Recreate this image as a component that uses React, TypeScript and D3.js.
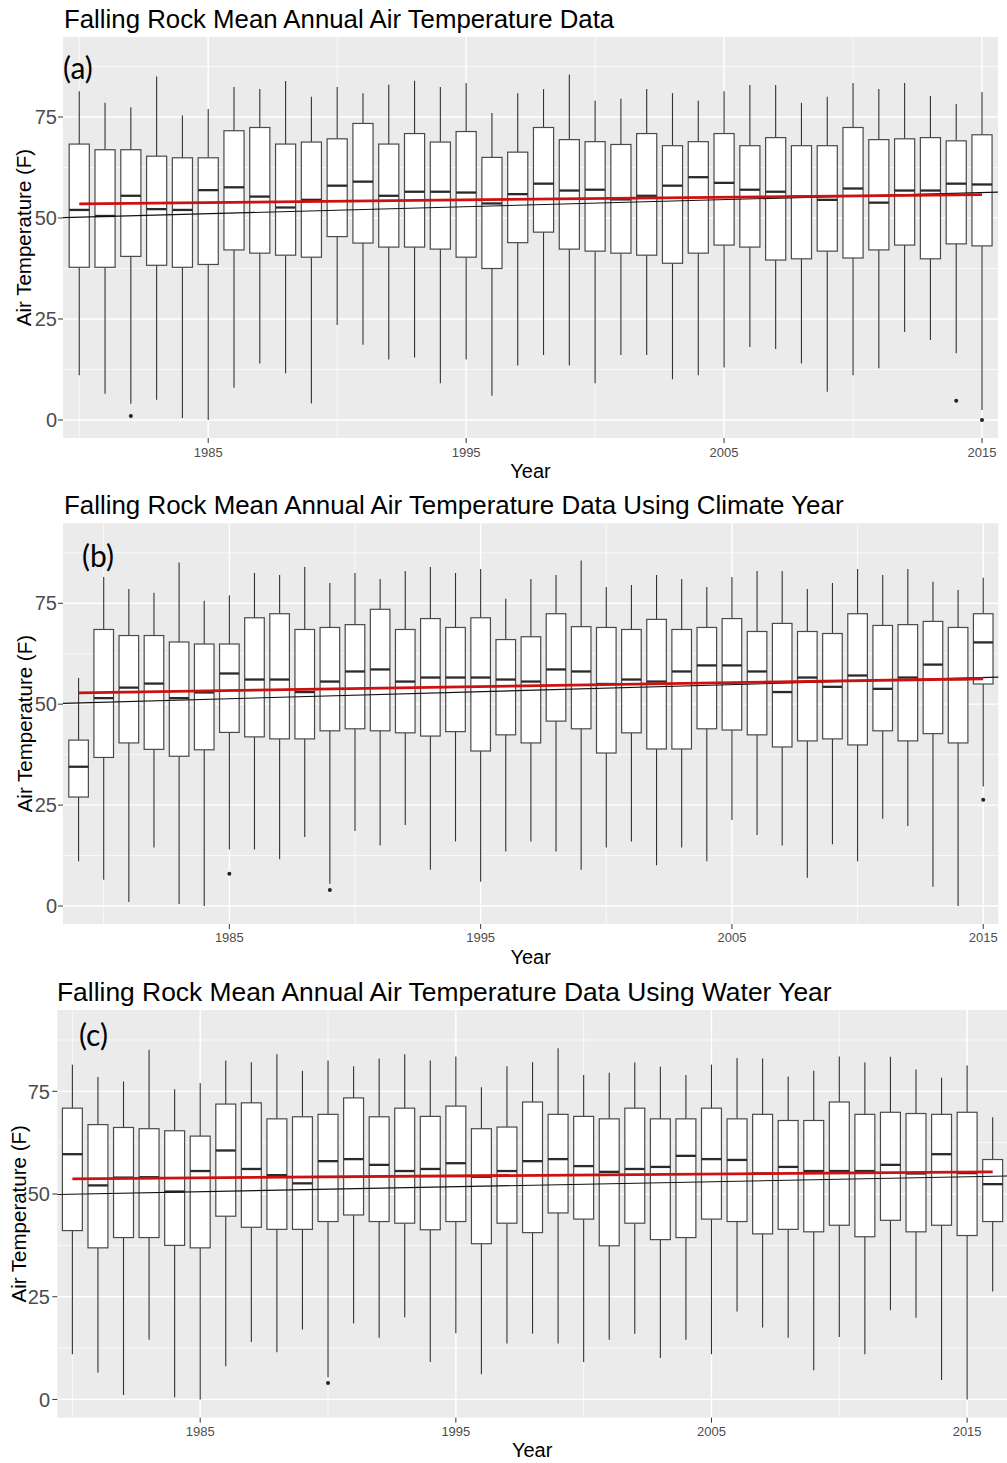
import React from 'react';
import * as d3 from 'd3';

// ---------- (a) calendar year ----------
const aYears = [1980, 1981, 1982, 1983, 1984, 1985, 1986, 1987, 1988, 1989, 1990, 1991, 1992, 1993, 1994, 1995, 1996, 1997, 1998, 1999, 2000, 2001, 2002, 2003, 2004, 2005, 2006, 2007, 2008, 2009, 2010, 2011, 2012, 2013, 2014, 2015];
const aHigh = [81.4, 78.5, 77.4, 85.0, 75.4, 77.0, 82.4, 81.9, 83.9, 80.0, 82.4, 80.9, 83.0, 84.0, 82.4, 83.4, 76.0, 80.9, 81.9, 85.5, 79.0, 79.5, 81.9, 80.9, 79.0, 81.4, 82.9, 82.9, 78.5, 80.0, 83.4, 81.9, 83.4, 80.2, 78.2, 81.2];
const aQ3 = [68.3, 66.9, 66.9, 65.3, 64.9, 64.9, 71.6, 72.4, 68.3, 68.8, 69.6, 73.4, 68.3, 70.9, 68.8, 71.4, 65.0, 66.3, 72.4, 69.4, 68.9, 68.2, 70.9, 67.9, 68.9, 70.9, 67.9, 69.9, 67.9, 67.9, 72.4, 69.4, 69.6, 69.9, 69.1, 70.6];
const aMedian = [52.0, 50.5, 55.5, 52.2, 52.0, 56.9, 57.6, 55.3, 52.6, 54.5, 58.0, 59.0, 55.5, 56.5, 56.5, 56.3, 53.6, 55.9, 58.5, 56.8, 57.0, 54.6, 55.5, 58.0, 60.1, 58.7, 57.0, 56.5, 55.3, 54.5, 57.3, 53.8, 56.8, 56.8, 58.5, 58.3];
const aQ1 = [37.8, 37.8, 40.5, 38.3, 37.8, 38.5, 42.1, 41.3, 40.8, 40.3, 45.4, 43.8, 42.8, 42.8, 42.3, 40.3, 37.5, 43.9, 46.5, 42.3, 41.8, 41.3, 40.8, 38.8, 41.3, 43.3, 42.8, 39.6, 39.9, 41.8, 40.1, 42.1, 43.3, 39.9, 43.6, 43.1];
const aLow = [11.1, 6.5, 4.0, 5.0, 0.5, 0.0, 8.0, 14.0, 11.6, 4.1, 23.5, 18.6, 15.0, 15.5, 9.1, 15.0, 6.0, 13.5, 16.1, 13.5, 9.1, 16.1, 16.1, 10.1, 11.1, 13.0, 18.1, 17.6, 14.0, 7.0, 11.1, 12.8, 21.8, 19.8, 16.5, 2.5];
const aOutlierYears = [1982, 2014, 2015];
const aOutlierValues = [1.0, 4.8, 0.0];
// linear trend (value at first year, change per year) and smoothed mean (first/last year)
const aTrend = [50.2, 0.174];
const aSmooth = [53.5, 55.8];

// ---------- (b) climate year ----------
const bYears = [1979, 1980, 1981, 1982, 1983, 1984, 1985, 1986, 1987, 1988, 1989, 1990, 1991, 1992, 1993, 1994, 1995, 1996, 1997, 1998, 1999, 2000, 2001, 2002, 2003, 2004, 2005, 2006, 2007, 2008, 2009, 2010, 2011, 2012, 2013, 2014, 2015];
const bHigh = [56.5, 81.5, 78.5, 77.6, 85.1, 75.6, 77.0, 82.5, 82.0, 84.0, 80.0, 82.5, 81.0, 83.0, 84.0, 82.5, 83.5, 76.1, 81.0, 82.0, 85.6, 79.0, 79.5, 82.0, 81.0, 79.0, 81.5, 83.0, 83.0, 78.5, 80.0, 83.5, 82.0, 83.5, 80.3, 78.3, 81.3];
const bQ3 = [41.1, 68.5, 67.0, 67.0, 65.4, 64.9, 64.9, 71.4, 72.4, 68.5, 69.0, 69.7, 73.5, 68.5, 71.2, 69.0, 71.4, 66.0, 66.7, 72.4, 69.2, 69.0, 68.5, 71.0, 68.5, 69.0, 71.2, 68.0, 70.0, 68.0, 67.5, 72.4, 69.5, 69.7, 70.5, 69.0, 72.4];
const bMedian = [34.5, 51.5, 54.1, 55.1, 51.5, 52.9, 57.6, 56.1, 56.1, 53.0, 55.6, 58.1, 58.6, 55.6, 56.6, 56.6, 56.6, 56.1, 55.6, 58.6, 58.1, 55.0, 56.1, 55.6, 58.1, 59.6, 59.6, 58.1, 53.0, 56.6, 54.3, 57.1, 53.8, 56.6, 59.8, 56.2, 65.3];
const bQ1 = [27.0, 36.8, 40.4, 38.8, 37.1, 38.7, 43.0, 41.9, 41.4, 41.4, 43.4, 43.9, 43.4, 42.9, 42.1, 43.2, 38.4, 42.4, 40.4, 45.8, 43.9, 37.9, 42.9, 38.9, 38.9, 43.9, 43.6, 42.4, 39.4, 40.9, 41.4, 39.9, 43.4, 40.9, 42.7, 40.4, 55.0];
const bLow = [11.1, 6.5, 1.0, 14.5, 0.5, 0.0, 14.0, 14.0, 11.6, 17.1, 5.5, 18.6, 15.0, 20.1, 9.0, 16.0, 6.0, 13.5, 16.0, 13.5, 9.0, 14.5, 16.0, 10.1, 14.5, 11.1, 21.3, 17.6, 15.0, 7.0, 15.3, 11.1, 21.6, 19.8, 4.8, 0.0, 29.6];
const bOutlierYears = [1985, 1989, 2015];
const bOutlierValues = [8.0, 4.0, 26.3];
const bTrend = [50.3, 0.175];
const bSmooth = [52.8, 56.3];

// ---------- (c) water year ----------
const cYears = [1980, 1981, 1982, 1983, 1984, 1985, 1986, 1987, 1988, 1989, 1990, 1991, 1992, 1993, 1994, 1995, 1996, 1997, 1998, 1999, 2000, 2001, 2002, 2003, 2004, 2005, 2006, 2007, 2008, 2009, 2010, 2011, 2012, 2013, 2014, 2015, 2016];
const cHigh = [81.5, 78.5, 77.4, 85.1, 75.5, 77.0, 82.5, 82.1, 84.0, 80.0, 82.5, 81.1, 83.0, 84.0, 82.5, 83.5, 76.0, 81.1, 82.1, 85.5, 79.0, 79.5, 82.0, 81.0, 79.0, 81.5, 83.1, 83.0, 78.6, 80.0, 83.5, 82.0, 83.4, 80.3, 78.3, 81.3, 68.7];
const cQ3 = [70.9, 66.9, 66.2, 65.9, 65.4, 64.1, 71.9, 72.2, 68.3, 68.8, 69.4, 73.4, 68.8, 70.9, 68.9, 71.4, 65.9, 66.3, 72.4, 69.4, 68.9, 68.3, 70.9, 68.3, 68.3, 70.9, 68.3, 69.4, 67.9, 67.9, 72.4, 69.4, 69.9, 69.6, 69.4, 69.9, 58.4];
const cMedian = [59.7, 52.1, 54.0, 54.1, 50.6, 55.6, 60.6, 56.1, 54.6, 52.6, 58.0, 58.5, 57.1, 55.6, 56.1, 57.5, 54.2, 55.6, 58.0, 58.5, 56.8, 55.4, 56.1, 56.6, 59.3, 58.5, 58.3, 55.0, 56.6, 55.6, 55.6, 55.6, 57.1, 55.0, 59.7, 55.1, 52.4];
const cQ1 = [41.1, 36.9, 39.4, 39.4, 37.5, 36.9, 44.6, 41.9, 41.4, 41.4, 43.3, 44.9, 43.3, 42.9, 41.3, 43.3, 37.9, 42.9, 40.6, 45.4, 43.9, 37.4, 42.9, 38.9, 39.4, 43.9, 43.3, 40.3, 41.4, 40.8, 42.4, 39.6, 43.6, 40.8, 42.4, 39.9, 43.3];
const cLow = [11.0, 6.5, 1.1, 14.5, 0.5, 0.0, 8.1, 14.0, 11.5, 17.0, 5.4, 18.5, 15.0, 20.0, 9.1, 16.1, 6.1, 13.6, 16.0, 13.6, 9.1, 14.5, 16.0, 10.1, 14.5, 11.0, 21.4, 17.5, 15.0, 7.1, 15.2, 11.0, 21.7, 19.9, 4.7, 0.0, 26.3];
const cOutlierYears = [1990];
const cOutlierValues = [4.0];
const cTrend = [49.97, 0.121];
const cSmooth = [53.7, 55.4];

// shared axis breaks
const yMajor = [0, 25, 50, 75];
const yMinor = [12.5, 37.5, 62.5, 87.5];
const xMajor = [1985, 1995, 2005, 2015];
const xMinor = [1980, 1990, 2000, 2010];

const FONT = "'Liberation Sans', Arial, sans-serif";
const BOX_WIDTH = 0.78; // in years

type Layout = {
  left: number; right: number; top: number; bottom: number;
  xDomain: [number, number];
  titleX: number; titleY: number; titleSize: number;
  tagX: number; tagY: number;
  yTitleX: number; xTitleY: number; xLabelY: number; yLabelX: number;
};

type PanelProps = {
  title: string; tag: string;
  years: number[]; high: number[]; q3: number[]; median: number[]; q1: number[]; low: number[];
  outYears: number[]; outValues: number[];
  trend: number[]; smooth: number[];
  layout: Layout;
};

function Panel(p: PanelProps) {
  const L = p.layout;
  const x = d3.scaleLinear().domain(L.xDomain).range([L.left, L.right]);
  const y = d3.scaleLinear().domain([-4.45, 94.8]).range([L.bottom, L.top]);
  const hw = (x(BOX_WIDTH) - x(0)) / 2;
  const line = d3.line<[number, number]>().x((d) => x(d[0])).y((d) => y(d[1]));
  const [x0, x1] = L.xDomain;
  const firstYear = p.years[0];
  const lastYear = p.years[p.years.length - 1];
  const trendPts: [number, number][] = [
    [x0, p.trend[0] + p.trend[1] * (x0 - firstYear)],
    [x1, p.trend[0] + p.trend[1] * (x1 - firstYear)],
  ];
  const smoothPts: [number, number][] = [
    [firstYear, p.smooth[0]],
    [lastYear, p.smooth[1]],
  ];
  const cx = (L.left + L.right) / 2;
  const cy = (L.top + L.bottom) / 2;
  return (
    <g>
      <text x={L.titleX} y={L.titleY} fontFamily={FONT} fontSize={L.titleSize} fill="#000">{p.title}</text>
      <rect x={L.left} y={L.top} width={L.right - L.left} height={L.bottom - L.top} fill="#EBEBEB" />
      {yMinor.map((v) => (
        <line key={'ym' + v} x1={L.left} x2={L.right} y1={y(v)} y2={y(v)} stroke="#fff" strokeWidth={0.7} />
      ))}
      {xMinor.filter((v) => v >= x0 && v <= x1).map((v) => (
        <line key={'xm' + v} x1={x(v)} x2={x(v)} y1={L.top} y2={L.bottom} stroke="#fff" strokeWidth={0.7} />
      ))}
      {yMajor.map((v) => (
        <line key={'yM' + v} x1={L.left} x2={L.right} y1={y(v)} y2={y(v)} stroke="#fff" strokeWidth={1.4} />
      ))}
      {xMajor.map((v) => (
        <line key={'xM' + v} x1={x(v)} x2={x(v)} y1={L.top} y2={L.bottom} stroke="#fff" strokeWidth={1.4} />
      ))}
      <text x={L.tagX} y={L.tagY} fontFamily="Lato, 'Open Sans', sans-serif" fontSize={30} fill="#000">{p.tag}</text>
      {p.years.map((yr, i) => (
        <g key={yr}>
          <line x1={x(yr)} x2={x(yr)} y1={y(p.high[i])} y2={y(p.q3[i])} stroke="#333" strokeWidth={1.1} />
          <line x1={x(yr)} x2={x(yr)} y1={y(p.q1[i])} y2={y(p.low[i])} stroke="#333" strokeWidth={1.1} />
          <rect x={x(yr) - hw} y={y(p.q3[i])} width={2 * hw} height={y(p.q1[i]) - y(p.q3[i])}
            fill="#fff" stroke="#4a4a4a" strokeWidth={1.2} />
          <line x1={x(yr) - hw} x2={x(yr) + hw} y1={y(p.median[i])} y2={y(p.median[i])} stroke="#2a2a2a" strokeWidth={2.3} />
        </g>
      ))}
      {p.outYears.map((yr, i) => (
        <circle key={'o' + i} cx={x(yr)} cy={y(p.outValues[i])} r={2} fill="#222" />
      ))}
      <path d={line(trendPts) || ''} fill="none" stroke="#111" strokeWidth={1.1} />
      <path d={line(smoothPts) || ''} fill="none" stroke="#CC1111" strokeWidth={2.8} />
      {yMajor.map((v) => (
        <g key={'yt' + v}>
          <line x1={L.left - 5} x2={L.left} y1={y(v)} y2={y(v)} stroke="#333" strokeWidth={1} />
          <text x={L.yLabelX} y={y(v)} dy="0.36em" textAnchor="end" fontFamily={FONT} fontSize={20} fill="#4D4D4D">{v}</text>
        </g>
      ))}
      {xMajor.map((v) => (
        <g key={'xt' + v}>
          <line x1={x(v)} x2={x(v)} y1={L.bottom} y2={L.bottom + 5} stroke="#333" strokeWidth={1} />
          <text x={x(v)} y={L.xLabelY} textAnchor="middle" fontFamily={FONT} fontSize={13} fill="#4D4D4D">{v}</text>
        </g>
      ))}
      <text x={cx} y={L.xTitleY} textAnchor="middle" fontFamily={FONT} fontSize={20} fill="#000">Year</text>
      <text transform={`translate(${L.yTitleX},${cy}) rotate(-90)`} textAnchor="middle" fontFamily={FONT} fontSize={20.5} fill="#000">Air Temperature (F)</text>
    </g>
  );
}

const layoutA: Layout = {
  left: 63, right: 998, top: 37, bottom: 438, xDomain: [1979.37, 2015.62],
  titleX: 64, titleY: 28, titleSize: 25.8, tagX: 63, tagY: 79,
  yTitleX: 31, xTitleY: 478, xLabelY: 457, yLabelX: 57,
};
const layoutB: Layout = {
  left: 63, right: 998.3, top: 523.3, bottom: 924, xDomain: [1978.38, 2015.6],
  titleX: 64, titleY: 514, titleSize: 25.9, tagX: 82, tagY: 567,
  yTitleX: 31.5, xTitleY: 964, xLabelY: 942, yLabelX: 57,
};
const layoutC: Layout = {
  left: 57.3, right: 1007, top: 1010, bottom: 1417.7, xDomain: [1979.41, 2016.56],
  titleX: 57, titleY: 1001, titleSize: 26.4, tagX: 79, tagY: 1046,
  yTitleX: 26, xTitleY: 1457, xLabelY: 1436, yLabelX: 50,
};

export default function App() {
  return (
    <svg width={1007} height={1463} style={{ position: 'absolute', left: 0, top: 0, background: '#fff' }}>
      <rect width={1007} height={1463} fill="#fff" />
      <Panel title="Falling Rock Mean Annual Air Temperature Data" tag="(a)"
        years={aYears} high={aHigh} q3={aQ3} median={aMedian} q1={aQ1} low={aLow}
        outYears={aOutlierYears} outValues={aOutlierValues} trend={aTrend} smooth={aSmooth} layout={layoutA} />
      <Panel title="Falling Rock Mean Annual Air Temperature Data Using Climate Year" tag="(b)"
        years={bYears} high={bHigh} q3={bQ3} median={bMedian} q1={bQ1} low={bLow}
        outYears={bOutlierYears} outValues={bOutlierValues} trend={bTrend} smooth={bSmooth} layout={layoutB} />
      <Panel title="Falling Rock Mean Annual Air Temperature Data Using Water Year" tag="(c)"
        years={cYears} high={cHigh} q3={cQ3} median={cMedian} q1={cQ1} low={cLow}
        outYears={cOutlierYears} outValues={cOutlierValues} trend={cTrend} smooth={cSmooth} layout={layoutC} />
    </svg>
  );
}
